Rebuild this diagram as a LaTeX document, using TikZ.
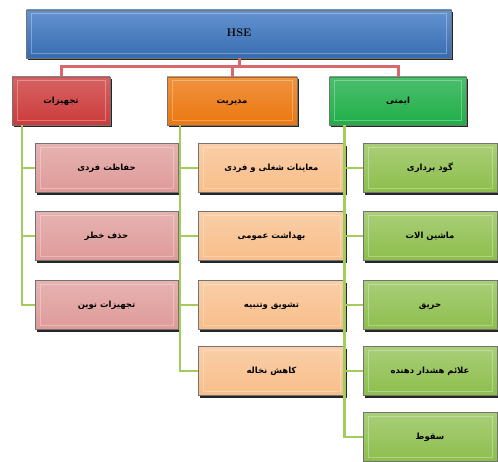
\documentclass[tikz,border=0pt]{standalone}
\usepackage{fontspec}
\newfontfamily\farsi[Script=Arabic]{DejaVu Sans}
\TeXXeTstate=1
\usetikzlibrary{shadows}
\usetikzlibrary{positioning}

\definecolor{hseblue}{HTML}{3D78C4}
\definecolor{topred}{HTML}{CC3B3B}
\definecolor{toporange}{HTML}{EC770F}
\definecolor{topgreen}{HTML}{1FAE48}
\definecolor{kidpink}{HTML}{DE9A98}
\definecolor{kidpeach}{HTML}{F8BE8A}
\definecolor{kidgreen}{HTML}{8DBE4C}
\definecolor{busred}{HTML}{D9686A}
\definecolor{kidline}{HTML}{A3CC5C}

\tikzset{
  bevel/.style={path picture={
    \draw[white, opacity=0.3, line width=1pt]
      ([shift={(5pt,4pt)}]path picture bounding box.south west) rectangle
      ([shift={(-5pt,-4pt)}]path picture bounding box.north east);}},
  box/.style={rectangle, draw=black!55, line width=0.4pt, bevel,
    minimum height=48pt, inner sep=2pt, text height=7.5pt, text depth=2.5pt,
    font=\farsi\bfseries\fontsize{8.5}{10}\selectfont,
    drop shadow={shadow xshift=1.5pt, shadow yshift=-2.5pt, opacity=0.85, fill=black}},
  hsebox/.style={box, minimum width=425pt, top color=hseblue!80!white, bottom color=hseblue!90!black,
    font=\bfseries\fontsize{11}{12}\selectfont},
  headbox/.style={box, top color=#1!80!white, bottom color=#1},
  kidbox/.style={box, minimum height=49pt, top color=#1!75!white, bottom color=#1},
  busline/.style={draw=busred, line width=3pt},
  kidlink/.style={draw=kidline, line width=2.6pt}
}

\begin{document}
\begin{tikzpicture}[x=1pt, y=-1pt]
	\useasboundingbox (0,0) rectangle (498,462);

	\begin{scope}
		\node[hsebox] (hse) at (239,34) {HSE};

		\node[headbox=topred, minimum width=98pt] (tajhizat) at (61,101) {\beginR تجهیزات\endR};
		\node[headbox=toporange, minimum width=130pt] (modiriat) at (232,101) {\beginR مدیریت\endR};
		\node[headbox=topgreen, minimum width=137pt] (imeni) at (398,101) {\beginR ایمنی\endR};
	\end{scope}

	\begin{scope}[every node/.style={kidbox=kidpink, minimum width=143pt}]
		\node (hefazat) at (106.5,168) {\beginR حفاظت فردی\endR};
		\node (hazf) at (106.5,236) {\beginR حذف خطر\endR};
		\node (novin) at (106.5,305) {\beginR تجهیزات نوین\endR};
	\end{scope}

	\begin{scope}[every node/.style={kidbox=kidpeach, minimum width=147pt}]
		\node (moayenat) at (271.5,168) {\beginR معاینات شغلی و فردی\endR};
		\node (behdasht) at (271.5,236) {\beginR بهداشت عمومی\endR};
		\node (tashvigh) at (271.5,305) {\beginR تشویق وتنبیه\endR};
		\node (nokhale) at (271.5,371) {\beginR کاهش نخاله\endR};
	\end{scope}

	\begin{scope}[every node/.style={kidbox=kidgreen, minimum width=134pt}]
		\node (gowd) at (430,168) {\beginR گود برداری\endR};
		\node (mashin) at (430,236) {\beginR ماشین الات\endR};
		\node (harigh) at (430,305) {\beginR حریق\endR};
		\node (alaem) at (430,371) {\beginR علائم هشدار دهنده\endR};
		\node (soghut) at (430,437) {\beginR سقوط\endR};
	\end{scope}

	% bus from HSE to the three heads
	\draw[busline] (tajhizat.north) -- ++(0,-10) -| (hse.south);
	\draw[busline] (modiriat.north) -- ++(0,-10) -| (hse.south);
	\draw[busline] (imeni.north) -- ++(0,-10) -| (hse.south);

	% links to the children
	\draw[kidlink] ([xshift=10pt]tajhizat.south west) |- (hefazat.west);
	\draw[kidlink] ([xshift=10pt]tajhizat.south west) |- (hazf.west);
	\draw[kidlink] ([xshift=10pt]tajhizat.south west) |- (novin.west);

	\draw[kidlink] ([xshift=13pt]modiriat.south west) |- (moayenat.west);
	\draw[kidlink] ([xshift=13pt]modiriat.south west) |- (behdasht.west);
	\draw[kidlink] ([xshift=13pt]modiriat.south west) |- (tashvigh.west);
	\draw[kidlink] ([xshift=13pt]modiriat.south west) |- (nokhale.west);

	\draw[kidlink] ([xshift=15pt]imeni.south west) |- (gowd.west);
	\draw[kidlink] ([xshift=15pt]imeni.south west) |- (mashin.west);
	\draw[kidlink] ([xshift=15pt]imeni.south west) |- (harigh.west);
	\draw[kidlink] ([xshift=15pt]imeni.south west) |- (alaem.west);
	\draw[kidlink] ([xshift=15pt]imeni.south west) |- (soghut.west);
\end{tikzpicture}
\end{document}
